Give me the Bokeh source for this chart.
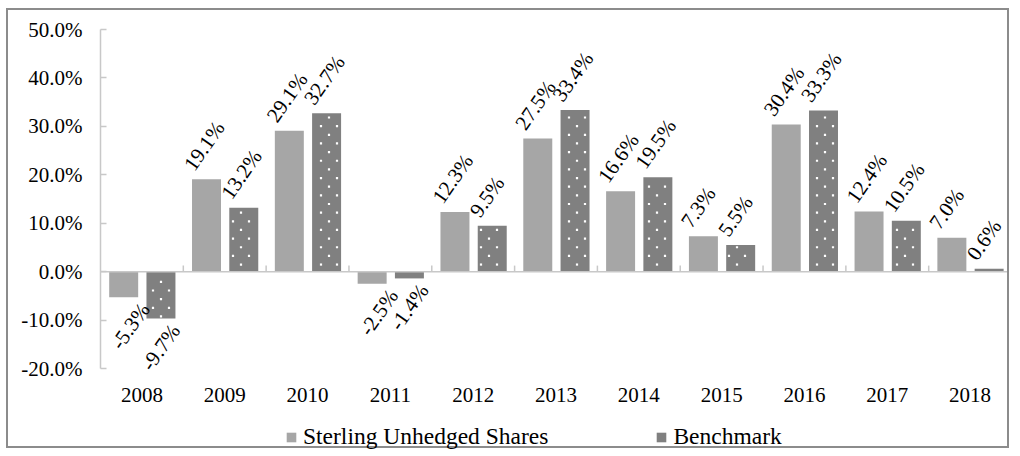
from bokeh.plotting import figure
from bokeh.models import (ColumnDataSource, Legend, LegendItem, PrintfTickFormatter,
                          FixedTicker, Span, LabelSet)
from bokeh.transform import dodge
from bokeh.core.properties import value
from bokeh.embed import file_html
from bokeh.resources import INLINE
import math

years = ["2008", "2009", "2010", "2011", "2012", "2013", "2014", "2015", "2016", "2017", "2018"]
sterling = [-5.3, 19.1, 29.1, -2.5, 12.3, 27.5, 16.6, 7.3, 30.4, 12.4, 7.0]
benchmark = [-9.7, 13.2, 32.7, -1.4, 9.5, 33.4, 19.5, 5.5, 33.3, 10.5, 0.6]
y_ticks = [-20, -10, 0, 10, 20, 30, 40, 50]
y_min, y_max = -20, 50
series_names = ["Sterling Unhedged Shares", "Benchmark"]

FONT = "Liberation Serif"
FS = "21px"
LEG_FS = "23.5px"
LIGHT = "#a6a6a6"
DARK = "#808080"
AXIS_GRAY = "#c8c8c8"

# layout (pixels)
WIDTH, HEIGHT = 1003, 440
TOP, LEFT = 19, 92
PLOT_H = 339            # pixel height of the -20%..50% value area
FRAME_H = HEIGHT - TOP  # frame extends to the bottom so the legend fits inside it
FRAME_W = WIDTH - LEFT
y_start = y_max - FRAME_H * (y_max - y_min) / PLOT_H
PX_PER_CAT = FRAME_W / len(years)
PX_PER_UNIT = PLOT_H / (y_max - y_min)

OFF_S = -0.22
OFF_B = 0.23
W = 0.35

p = figure(x_range=years, y_range=(y_start, y_max), width=WIDTH, height=HEIGHT,
           output_backend="svg", toolbar_location=None,
           min_border_left=LEFT, min_border_right=0, min_border_top=TOP, min_border_bottom=0)
p.styles = {"border": "2px solid #8c8c8c"}
p.margin = (8, 0, 0, 6)
p.outline_line_color = None
p.xgrid.visible = False
p.ygrid.visible = False


def lbl(v):
    return f"{v:.1f}%"


src = ColumnDataSource(dict(
    years=years, s=sterling, b=benchmark,
    s_pos=[lbl(v) if v >= 0 else "" for v in sterling],
    s_neg=[lbl(v) if v < 0 else "" for v in sterling],
    b_pos=[lbl(v) if v >= 0 else "" for v in benchmark],
    b_neg=[lbl(v) if v < 0 else "" for v in benchmark],
    zero=[0] * len(years),
    tick_top=[1.25] * len(years),
))

r1 = p.vbar(x=dodge("years", OFF_S, range=p.x_range), top="s", bottom=0, width=W,
            source=src, fill_color=LIGHT, line_color=None)
r2 = p.vbar(x=dodge("years", OFF_B, range=p.x_range), top="b", bottom=0, width=W,
            source=src, fill_color=DARK, line_color=None)


# dotted fill texture of the benchmark bars: a staggered grid of small white dots,
# clipped to each bar's extent (derived from the benchmark values)
def dot_texture(vals):
    row_step = 8.65 / PX_PER_UNIT          # value units between dot rows
    y_anchor = y_max - 88 / PX_PER_UNIT    # one reference row
    half_w_px = W * PX_PER_CAT / 2
    xs, ys = [], []
    for i, v in enumerate(vals):
        lo, hi = min(0.0, v), max(0.0, v)
        c_px = (i + 0.5 + OFF_B) * PX_PER_CAT
        for k in range(-40, 80):
            y = y_anchor - k * row_step
            if not (lo + 2 / PX_PER_UNIT < y < hi - 2 / PX_PER_UNIT):
                continue
            phase = 4.5 if k % 2 == 0 else 12.5
            start = math.floor((c_px - half_w_px - phase) / 16)
            for j in range(start, start + 4):
                x_px = phase + 16 * j
                if c_px - half_w_px + 2.5 < x_px < c_px + half_w_px - 2.5:
                    xs.append(x_px / PX_PER_CAT)
                    ys.append(y)
    return xs, ys


dx, dy = dot_texture(benchmark)
p.scatter(x=dx, y=dy, marker="square", size=2.2, fill_color="white", line_color=None)

# zero line and category boundary ticks
p.add_layout(Span(location=0, dimension="width", line_color=AXIS_GRAY, line_width=1.5))
p.segment(x0=dodge("years", 0.5, range=p.x_range), y0="zero",
          x1=dodge("years", 0.5, range=p.x_range), y1="tick_top",
          source=src, line_color=AXIS_GRAY, line_width=1.5)

ang = math.radians(55)
common = dict(source=src, angle=ang, text_font=value(FONT), text_font_size=FS,
              text_color="black", text_baseline="alphabetic")
labels = [
    LabelSet(x=dodge("years", OFF_S, range=p.x_range), y="s", text="s_pos",
             text_align="left", x_offset=-12, y_offset=7, **common),
    LabelSet(x=dodge("years", OFF_B, range=p.x_range), y="b", text="b_pos",
             text_align="left", x_offset=-12, y_offset=7, **common),
    LabelSet(x=dodge("years", OFF_S, range=p.x_range), y="s", text="s_neg",
             text_align="right", x_offset=27, y_offset=-12, **common),
    LabelSet(x=dodge("years", OFF_B, range=p.x_range), y="b", text="b_neg",
             text_align="right", x_offset=20, y_offset=-12, **common),
]
for l in labels:
    p.add_layout(l)

# axes
ya = p.yaxis[0]
ya.ticker = FixedTicker(ticks=y_ticks)
ya.bounds = (y_min, y_max)
ya.formatter = PrintfTickFormatter(format="%.1f%%")
ya.axis_line_color = AXIS_GRAY
ya.axis_line_width = 1.5
ya.major_tick_line_color = AXIS_GRAY
ya.major_tick_line_width = 1.5
ya.major_tick_in = 6
ya.major_tick_out = 0
ya.minor_tick_line_color = None
ya.major_label_standoff = 18
ya.major_label_text_font = FONT
ya.major_label_text_font_size = FS
ya.major_label_text_color = "black"

xa = p.xaxis[0]
xa.fixed_location = y_min
xa.axis_line_color = None
xa.major_tick_line_color = None
xa.minor_tick_line_color = None
xa.major_label_standoff = 13
xa.major_label_text_font = FONT
xa.major_label_text_font_size = FS
xa.major_label_text_color = "black"

legend = Legend(items=[LegendItem(label=series_names[0], renderers=[r1]),
                       LegendItem(label=series_names[1], renderers=[r2])],
                orientation="horizontal", location=(185, 0),
                glyph_width=12, glyph_height=12, label_standoff=6, spacing=107,
                padding=0, margin=0, border_line_color=None, background_fill_alpha=0,
                label_text_font=FONT, label_text_font_size=LEG_FS, label_text_color="black")
p.add_layout(legend, "center")

open("out.html", "w").write(file_html(p, INLINE))
